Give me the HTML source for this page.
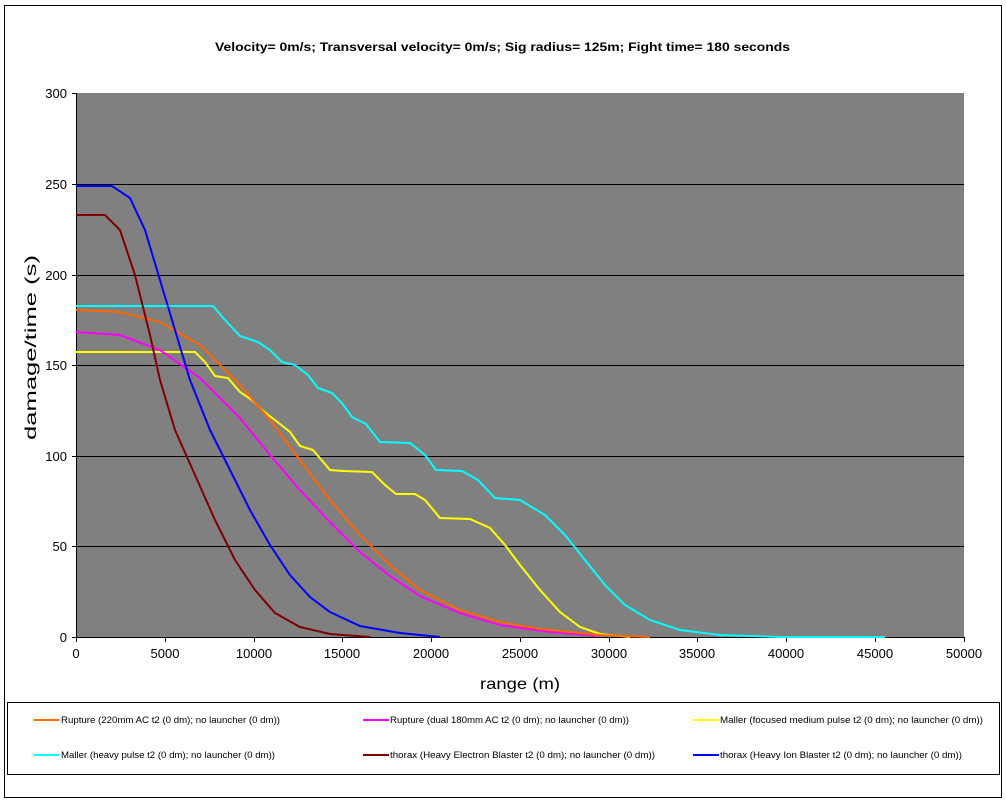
<!DOCTYPE html><html><head><style>body{margin:0;background:#fff}svg{display:block}text{font-family:"Liberation Sans",Arial,sans-serif}</style></head><body>
<svg width="1006" height="804" xmlns="http://www.w3.org/2000/svg">
<rect x="4.5" y="5.5" width="997" height="792" fill="#fff" stroke="#000"/>
<text x="215" y="51" font-size="12" font-weight="bold" textLength="575" lengthAdjust="spacingAndGlyphs">Velocity= 0m/s; Transversal  velocity= 0m/s; Sig radius= 125m; Fight time= 180 seconds</text>
<rect x="76" y="93" width="888" height="544" fill="#808080"/>
<g stroke="#000" stroke-width="1">
<line x1="76" x2="964" y1="184.5" y2="184.5"/><line x1="76" x2="964" y1="275.5" y2="275.5"/><line x1="76" x2="964" y1="365.5" y2="365.5"/><line x1="76" x2="964" y1="456.5" y2="456.5"/><line x1="76" x2="964" y1="546.5" y2="546.5"/>
<line x1="76.5" x2="76.5" y1="93" y2="637"/><line x1="76" x2="964" y1="637.5" y2="637.5"/>
<line x1="72" x2="76" y1="93.5" y2="93.5"/><line x1="72" x2="76" y1="184.5" y2="184.5"/><line x1="72" x2="76" y1="275.5" y2="275.5"/><line x1="72" x2="76" y1="365.5" y2="365.5"/><line x1="72" x2="76" y1="456.5" y2="456.5"/><line x1="72" x2="76" y1="546.5" y2="546.5"/><line x1="72" x2="76" y1="637.5" y2="637.5"/>
<line x1="76.5" x2="76.5" y1="637" y2="642"/><line x1="165.5" x2="165.5" y1="637" y2="642"/><line x1="254.5" x2="254.5" y1="637" y2="642"/><line x1="342.5" x2="342.5" y1="637" y2="642"/><line x1="431.5" x2="431.5" y1="637" y2="642"/><line x1="520.5" x2="520.5" y1="637" y2="642"/><line x1="609.5" x2="609.5" y1="637" y2="642"/><line x1="697.5" x2="697.5" y1="637" y2="642"/><line x1="786.5" x2="786.5" y1="637" y2="642"/><line x1="875.5" x2="875.5" y1="637" y2="642"/><line x1="964.5" x2="964.5" y1="637" y2="642"/>
</g>
<g font-size="13" text-anchor="end"><text x="67" y="98">300</text><text x="67" y="189">250</text><text x="67" y="280">200</text><text x="67" y="370">150</text><text x="67" y="461">100</text><text x="67" y="551">50</text><text x="67" y="642">0</text></g>
<g font-size="13" text-anchor="middle"><text x="76" y="658">0</text><text x="165" y="658">5000</text><text x="254" y="658">10000</text><text x="342" y="658">15000</text><text x="431" y="658">20000</text><text x="520" y="658">25000</text><text x="609" y="658">30000</text><text x="697" y="658">35000</text><text x="786" y="658">40000</text><text x="875" y="658">45000</text><text x="964" y="658">50000</text></g>
<text x="480" y="689" font-size="16" textLength="80" lengthAdjust="spacingAndGlyphs">range (m)</text>
<text transform="translate(36,440) rotate(-90)" font-size="16" textLength="185" lengthAdjust="spacingAndGlyphs">damage/time (s)</text>
<g fill="none" stroke-width="2">
<polyline stroke="#00ffff" points="76,306 213,306 225,320 240,336 258,342 270,350 282,362 295,365 308,375 318,388 332,393 342,403 352,417 366,424 380,442 410,443 425,455 436,470 462,471 478,480 495,498 520,500 545,515 565,535 585,560 605,585 625,605 650,620 680,630 720,635 780,637 885,637"/>
<polyline stroke="#ffff00" points="76,352 195,352 205,362 215,376 228,378 240,392 252,400 262,410 280,424 290,432 300,446 313,450 330,470 343,471 372,472 385,485 396,494 415,494 425,500 440,518 470,519 490,528 505,545 520,565 540,590 560,612 580,627 600,634 630,637"/>
<polyline stroke="#ff00ff" points="76,332 120,335 160,350 200,378 240,418 270,455 300,490 330,522 360,552 390,576 420,596 460,613 500,625 550,632 600,636"/>
<polyline stroke="#ff6600" points="76,310 120,312 160,322 200,345 240,385 270,420 300,460 330,500 360,535 390,565 420,590 460,610 500,622 540,629 600,635 650,637"/>
<polyline stroke="#800000" points="76,215 105,215 120,230 135,275 150,335 160,380 175,430 195,475 215,520 235,560 255,590 275,613 300,627 330,634 370,637"/>
<polyline stroke="#0000ff" points="76,186 112,186 130,198 145,230 160,280 175,330 190,380 210,430 230,470 250,510 270,545 290,575 310,597 330,612 360,626 400,633 440,637"/>
</g>
<rect x="7.5" y="702.5" width="992" height="72" fill="#fff" stroke="#000"/>
<g stroke-width="2"><line x1="34" x2="59" y1="720" y2="720" stroke="#ff6600"/><line x1="363" x2="389" y1="720" y2="720" stroke="#ff00ff"/><line x1="693" x2="719" y1="720" y2="720" stroke="#ffff00"/>
<line x1="34" x2="59" y1="755" y2="755" stroke="#00ffff"/><line x1="363" x2="389" y1="755" y2="755" stroke="#800000"/><line x1="693" x2="719" y1="755" y2="755" stroke="#0000ff"/></g>
<g font-size="9"><text x="61" y="723" textLength="219" lengthAdjust="spacingAndGlyphs">Rupture (220mm AC t2 (0 dm); no launcher (0 dm))</text><text x="390" y="723" textLength="239" lengthAdjust="spacingAndGlyphs">Rupture (dual 180mm AC t2 (0 dm); no launcher (0 dm))</text><text x="720" y="723" textLength="263" lengthAdjust="spacingAndGlyphs">Maller (focused medium pulse t2 (0 dm); no launcher (0 dm))</text>
<text x="61" y="758" textLength="214" lengthAdjust="spacingAndGlyphs">Maller (heavy pulse t2 (0 dm); no launcher (0 dm))</text><text x="390" y="758" textLength="265" lengthAdjust="spacingAndGlyphs">thorax (Heavy Electron Blaster t2 (0 dm); no launcher (0 dm))</text><text x="720" y="758" textLength="242" lengthAdjust="spacingAndGlyphs">thorax (Heavy Ion Blaster t2 (0 dm); no launcher (0 dm))</text></g>
</svg></body></html>
